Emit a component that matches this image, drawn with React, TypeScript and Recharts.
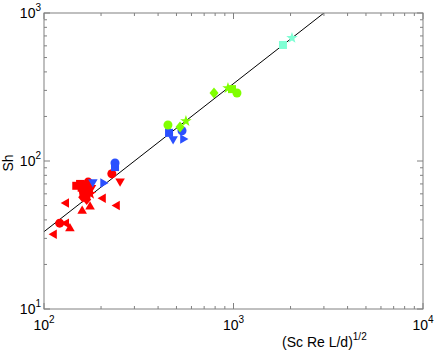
import { ScatterChart, Scatter, XAxis, YAxis } from 'recharts'

// values: [Sc Re L/d ^ 1/2, Sh]
const redLeftTri = [[113, 32], [131, 38], [131, 52], [205, 56], [243, 50]]
const redUpTri = [[137, 35], [159, 46], [175, 49]]
const redCircle = [[121, 38], [161, 63], [167, 58], [171, 72], [228, 82], [162, 60], [172, 62]]
const redSquare = [[148, 68], [155, 70], [158, 66]]
const redStar = [[165, 67], [170, 64], [176, 60]]
const redDiamond = [[168, 55], [160, 57]]
const redDownTri = [[252, 73], [178, 66]]

const blueDownTri = [[181, 72], [480, 141]]
const blueRightTri = [[205, 71], [541, 141]]
const blueSquare = [[237, 91], [457, 155]]
const blueCircle = [[237, 97], [535, 160]]

const greenCircle = [[451, 175], [1043, 288]]
const greenDiamond = [[522, 170], [789, 288]]
const greenStar = [[561, 186], [935, 311]]
const greenSquare = [[982, 306]]

const cyanSquare = [[1824, 608]]
const cyanStar = [[2035, 678]]

const fitX = [100, 3000]
const fitY = [33.3, 1000]

const xTicks = [100, 200, 300, 400, 500, 600, 700, 800, 900, 1000, 2000, 3000, 4000, 5000, 6000, 7000, 8000, 9000, 10000]
const yTicks = [10, 20, 30, 40, 50, 60, 70, 80, 90, 100, 200, 300, 400, 500, 600, 700, 800, 900, 1000]

const RED = '#ff0000'
const BLUE = '#2b50ff'
const GREEN = '#80ff00'
const CYAN = '#7fffd4'
const AXIS = '#808080'
const FONT = '"Liberation Sans", Arial, sans-serif'

const LEFT = 44
const RIGHT = 423
const TOP = 13
const BOTTOM = 309

const toPts = (arr: number[][]) => arr.map(([x, y]) => ({ x, y }))
const isMajor = (v: number) => Math.abs(Math.log10(v) - Math.round(Math.log10(v))) < 1e-9

function marker(kind: string, color: string) {
  return (p: any) => {
    const { cx, cy } = p
    if (cx == null || cy == null) return <g />
    const s = 5.5
    const tri = (pts: number[][]) => (
      <polygon points={pts.map(([a, b]) => `${cx + a},${cy + b}`).join(' ')} fill={color} />
    )
    switch (kind) {
      case 'circle':
        return <circle cx={cx} cy={cy} r={4.5} fill={color} />
      case 'square':
        return <rect x={cx - 4} y={cy - 4} width={8} height={8} fill={color} />
      case 'diamond':
        return tri([[0, -5.5], [4.5, 0], [0, 5.5], [-4.5, 0]])
      case 'up':
        return tri([[0, -s], [s * 0.87, s * 0.5], [-s * 0.87, s * 0.5]])
      case 'down':
        return tri([[0, s], [s * 0.87, -s * 0.5], [-s * 0.87, -s * 0.5]])
      case 'left':
        return tri([[-s, 0], [s * 0.5, -s * 0.87], [s * 0.5, s * 0.87]])
      case 'right':
        return tri([[s, 0], [-s * 0.5, -s * 0.87], [-s * 0.5, s * 0.87]])
      case 'star': {
        const pts: number[][] = []
        for (let i = 0; i < 10; i++) {
          const r = i % 2 === 0 ? 6 : 2.4
          const a = -Math.PI / 2 + (i * Math.PI) / 5
          pts.push([r * Math.cos(a), r * Math.sin(a)])
        }
        return tri(pts)
      }
      default:
        return <g />
    }
  }
}

function Pow({ v, x, y, anchor }: { v: number; x: number; y: number; anchor: 'middle' | 'end' }) {
  return (
    <text x={x} y={y} textAnchor={anchor} fontFamily={FONT} fontSize={14} fill="#000">
      <tspan>10</tspan>
      <tspan dy={-7} fontSize={10}>{Math.round(Math.log10(v))}</tspan>
    </text>
  )
}

// draws both the bottom and the top tick at each x tick
function XTick(props: any) {
  const { x, payload } = props
  const v = payload.value
  const len = isMajor(v) ? 6 : 3
  return (
    <g>
      <line x1={x} x2={x} y1={BOTTOM} y2={BOTTOM - len} stroke={AXIS} />
      <line x1={x} x2={x} y1={TOP} y2={TOP + len} stroke={AXIS} />
      {isMajor(v) && <Pow v={v} x={x} y={330} anchor="middle" />}
    </g>
  )
}

// draws both the left and the right tick at each y tick
function YTick(props: any) {
  const { y, payload } = props
  const v = payload.value
  const len = isMajor(v) ? 6 : 3
  return (
    <g>
      <line x1={LEFT} x2={LEFT + len} y1={y} y2={y} stroke={AXIS} />
      <line x1={RIGHT} x2={RIGHT - len} y1={y} y2={y} stroke={AXIS} />
      {isMajor(v) && <Pow v={v} x={41} y={y + 5} anchor="end" />}
    </g>
  )
}

const series: [number[][], string, string][] = [
  [redLeftTri, 'left', RED],
  [redUpTri, 'up', RED],
  [redCircle, 'circle', RED],
  [redSquare, 'square', RED],
  [redStar, 'star', RED],
  [redDiamond, 'diamond', RED],
  [redDownTri, 'down', RED],
  [blueDownTri, 'down', BLUE],
  [blueRightTri, 'right', BLUE],
  [blueSquare, 'square', BLUE],
  [blueCircle, 'circle', BLUE],
  [greenCircle, 'circle', GREEN],
  [greenDiamond, 'diamond', GREEN],
  [greenStar, 'star', GREEN],
  [greenSquare, 'square', GREEN],
  [cyanSquare, 'square', CYAN],
  [cyanStar, 'star', CYAN],
]

export default function App() {
  const fit = fitX.map((x, i) => ({ x, y: fitY[i] }))
  return (
    <div style={{ position: 'absolute', left: 0, top: 0, background: '#fff' }}>
      <ScatterChart
        width={436}
        height={355}
        margin={{ top: TOP, right: 436 - RIGHT, bottom: 355 - BOTTOM - 30, left: LEFT - 30 }}
      >
        <XAxis
          type="number"
          dataKey="x"
          scale="log"
          domain={[100, 10000]}
          ticks={xTicks}
          interval={0}
          allowDataOverflow
          height={30}
          tickLine={false}
          axisLine={false}
          tick={<XTick />}
        />
        <YAxis
          type="number"
          dataKey="y"
          scale="log"
          domain={[10, 1000]}
          ticks={yTicks}
          interval={0}
          allowDataOverflow
          width={30}
          tickLine={false}
          axisLine={false}
          tick={<YTick />}
        />
        <Scatter
          data={fit}
          line={{ stroke: '#000', strokeWidth: 1 }}
          shape={() => <g />}
          isAnimationActive={false}
        />
        {series.map(([arr, kind, color], i) => (
          <Scatter key={i} data={toPts(arr)} shape={marker(kind, color)} isAnimationActive={false} />
        ))}
      </ScatterChart>
      <svg
        width={436}
        height={355}
        style={{ position: 'absolute', left: 0, top: 0, pointerEvents: 'none' }}
      >
        <rect x={LEFT} y={TOP} width={RIGHT - LEFT} height={BOTTOM - TOP} fill="none" stroke={AXIS} />
        <text x={282} y={347} fontFamily={FONT} fontSize={14} fill="#000">
          <tspan>(Sc Re L/d)</tspan>
          <tspan dy={-7} fontSize={10}>1/2</tspan>
        </text>
        <text
          x={13}
          y={163}
          transform="rotate(-90 13 163)"
          textAnchor="middle"
          fontFamily={FONT}
          fontSize={14}
          fill="#000"
        >
          Sh
        </text>
      </svg>
    </div>
  )
}
